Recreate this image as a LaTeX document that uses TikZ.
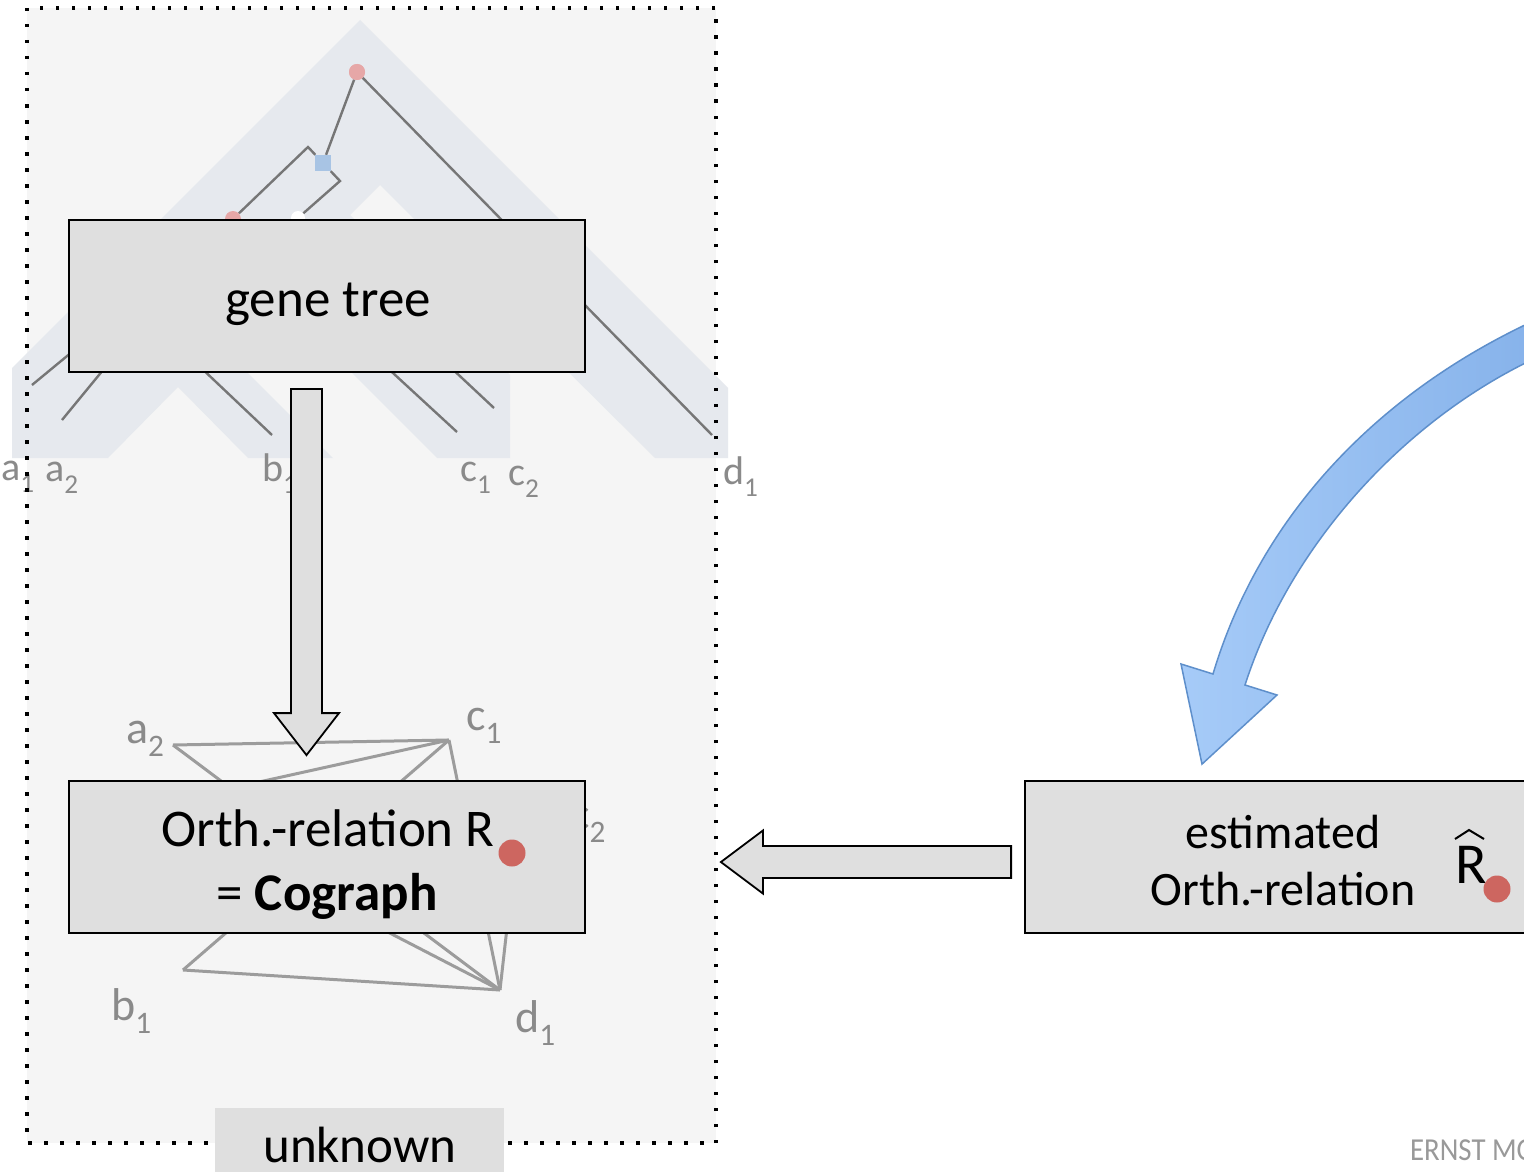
\documentclass[tikz,border=0pt]{standalone}
\usepackage{fontspec}
\setmainfont{Carlito}
\usetikzlibrary{calc}
\definecolor{bggray}{HTML}{F5F5F5}
\definecolor{bandc}{HTML}{E6E9EE}
\definecolor{boxfill}{HTML}{DFDFDF}
\definecolor{treegray}{HTML}{767676}
\definecolor{graphgray}{HTML}{9C9C9C}
\definecolor{labgray}{HTML}{8A8A8A}
\definecolor{pinkc}{HTML}{E6A7A7}
\definecolor{sqblue}{HTML}{A8C4E4}
\definecolor{redc}{HTML}{CD6660}
\definecolor{blueA}{HTML}{A6CBF8}
\definecolor{blueB}{HTML}{86B2EA}
\definecolor{blueD}{HTML}{5E8FCB}
\definecolor{logogray}{HTML}{999999}
\newcommand\lsub[1]{\raisebox{-0.3em}{\scalebox{0.68}{#1}}}
\begin{document}
\begin{tikzpicture}[x=1pt,y=-1pt,
  treeline/.style={draw=treegray, line width=2.4},
  graphedge/.style={draw=graphgray, line width=3},
  leaflab/.style={text=labgray, anchor=base west, inner sep=0, font=\fontsize{40}{48}\selectfont},
  graphlab/.style={text=labgray, anchor=base west, inner sep=0, font=\fontsize{46}{55}\selectfont},
  box/.style={draw=black, line width=1.8, fill=boxfill, minimum width=516, minimum height=152, inner sep=0},
  boxtext/.style={anchor=base, inner sep=0, font=\fontsize{53}{63}\selectfont},
  esttext/.style={anchor=base, inner sep=0, font=\fontsize{48}{58}\selectfont},
  blockarrow/.style={draw=black, line width=1.8, fill=boxfill, line join=miter},
  pinkdot/.style={circle, fill=pinkc, minimum size=16, inner sep=0},
  whitedot/.style={circle, fill=white, minimum size=14, inner sep=0},
  dupsq/.style={rectangle, fill=sqblue, minimum size=16, inner sep=0},
  reddot/.style={circle, fill=redc, minimum size=27, inner sep=0},
  bluearrow/.style={draw=blueD, line width=1.5, left color=blueA, right color=blueB, line join=miter},
  dotframe/.style={draw=black, line width=3.5, dash pattern=on 3.5 off 12.5}
]
\useasboundingbox (0,0) rectangle (1524,1172);
\begin{scope}
\clip (0,0) rectangle (1524,1172);
\fill[white] (0,0) rectangle (1524,1172);
% background of the unknown region
\fill[bggray] (27,8) rectangle (716,1143);
% species tree band
\fill[bandc] (360,20) -- (728,388) -- (728,458) -- (655,458) -- (380,185) -- (350,215)
  -- (510,375) -- (510,458) -- (437,458) -- (272,293) -- (220,345) -- (333,458)
  -- (248,458) -- (178,387) -- (108,458) -- (12,458) -- (12,368) -- cycle;

% gene tree
\coordinate (ta1) at (32,385);
\coordinate (ta2) at (62,420);
\coordinate (tb1) at (272,435);
\coordinate (tc1) at (457,432);
\coordinate (tc2) at (494,408);
\coordinate (td1) at (712,435);
\coordinate (k1) at (308,147);
\coordinate (k2) at (340,181);
\coordinate (ak) at (200,252);
\coordinate (bk) at (140,310);
\coordinate (ck1) at (330,315);
\coordinate (ck2) at (400,320);
\node[pinkdot] (root) at (357,72) {};
\node[dupsq] (dup) at (323,163) {};
\node[pinkdot] (sp1) at (233,219) {};
\node[whitedot] (sp2) at (298,218) {};
\draw[treeline] (root) -- (td1);
\draw[treeline] (root) -- (dup);
\draw[treeline] (dup) -- (k1) -- (sp1);
\draw[treeline] (dup) -- (k2) -- (sp2);
\draw[treeline] (sp1) -- (ta1);
\draw[treeline] (ak) -- (ta2);
\draw[treeline] (bk) -- (tb1);
\draw[treeline] (ck1) -- (tc1);
\draw[treeline] (ck2) -- (tc2);
\node[pinkdot] at (root) {};
\node[dupsq] at (dup) {};

% leaf labels
\node[leaflab] (la1) at (1,480) {a\lsub{1}};
\node[leaflab] (la2) at (45,481) {a\lsub{2}};
\node[leaflab] (lb1) at (262,481) {b\lsub{1}};
\node[leaflab] (lc1) at (460,481) {c\lsub{1}};
\node[leaflab] (lc2) at (508,485) {c\lsub{2}};
\node[leaflab] (ld1) at (723,484) {d\lsub{1}};

% cograph
\coordinate (ga1) at (146,807);
\coordinate (ga2) at (173,745);
\coordinate (gb1) at (183,970);
\coordinate (gc1) at (449,740);
\coordinate (gc2) at (520,812);
\coordinate (gd1) at (500,990);
\draw[graphedge] (ga2) -- (gc1);
\draw[graphedge] (ga2) -- (gd1);
\draw[graphedge] (ga1) -- (gc1);
\draw[graphedge] (ga1) -- (gd1);
\draw[graphedge] (gb1) -- (gc1);
\draw[graphedge] (gb1) -- (gd1);
\draw[graphedge] (gc1) -- (gd1);
\draw[graphedge] (gc2) -- (gd1);
\node[graphlab] (na2) at (126,743) {a\lsub{2}};
\node[graphlab] (nc1) at (466,730) {c\lsub{1}};
\node[graphlab] (nb1) at (111,1020) {b\lsub{1}};
\node[graphlab] (nd1) at (515,1032) {d\lsub{1}};
\node[graphlab] (nc2) at (570,829) {c\lsub{2}};

% dotted frame
\draw[dotframe] (27,8) rectangle (716,1143);

% boxes
\node[box] (gt) at (327,296) {};
\node[boxtext] at (328,316) {gene tree};
\node[box] (orth) at (327,857) {};
\node[boxtext] at (328,846) {Orth.-relation R};
\node[boxtext] at (327,910) {= \textbf{Cograph}};
\node[reddot] at (512,853) {};

\node[box] (est) at (1283,857) {};
\node[esttext] at (1283,848) {estimated};
\node[esttext] at (1283,905) {Orth.-relation};
\node[anchor=base west, inner sep=0, font=\fontsize{58}{70}\selectfont] (rhat) at (1455,883) {R};
\draw[line width=2] (1455,839) -- (1469,830) -- (1484,839);
\node[reddot] at (1497,889) {};

% down arrow gene tree -> orth relation
\coordinate (dtop) at ($(gt.south)+(-20.5,16)$);
\coordinate (dtip) at ($(orth.north)+(-20.5,-25)$);
\draw[blockarrow] ($(dtop)+(-15.5,0)$) -- ($(dtop)+(15.5,0)$) -- ($(dtip)+(15.5,-42)$)
  -- ($(dtip)+(32.5,-42)$) -- (dtip) -- ($(dtip)+(-32.5,-42)$) -- ($(dtip)+(-15.5,-42)$) -- cycle;

% left arrow estimated -> orth
\coordinate (ltail) at ($(est.west)+(-13,5)$);
\coordinate (ltip) at ($(orth.east)+(135,5)$);
\draw[blockarrow] ($(ltail)+(0,-16)$) -- ($(ltip)+(42,-16)$) -- ($(ltip)+(42,-31.5)$)
  -- (ltip) -- ($(ltip)+(42,31.5)$) -- ($(ltip)+(42,16)$) -- ($(ltail)+(0,16)$) -- cycle;

% blue curved arrow
\coordinate (bstart) at (1540,318);
\coordinate (bend) at (1540,356);
\coordinate (btip) at ($(est.north)+(-81,-16)$);
\path[bluearrow] (bstart) .. controls (1385,388) and (1262,510) .. (1213,674)
  -- (1181,664) -- (btip) -- (1277,695) -- (1245,685)
  .. controls (1290,545) and (1405,418) .. (bend) -- cycle;

% unknown label
\node[fill=boxfill, minimum width=289, minimum height=72, inner sep=0] (unk) at (359.5,1144) {};
\node[anchor=base, inner sep=0, font=\fontsize{51}{61}\selectfont] at (360,1162) {unknown};

% logo text
\node[anchor=base west, inner sep=0, text=logogray, font=\fontsize{32}{38}\selectfont, xscale=0.9] (logo) at (1410,1160) {ERNST MO};
\end{scope}
\end{tikzpicture}
\end{document}
